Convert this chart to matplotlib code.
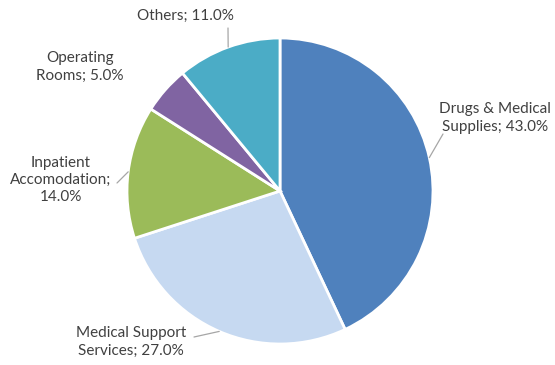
import matplotlib
matplotlib.use('Agg')
import matplotlib.pyplot as plt
import numpy as np

categories = ['Drugs & Medical\nSupplies', 'Medical Support\nServices', 'Inpatient\nAccomodation;\n14.0%',
              'Operating\nRooms', 'Others']
shares = [43.0, 27.0, 14.0, 5.0, 11.0]
colors = ['#4F81BD', '#C6D9F1', '#9BBB59', '#8064A2', '#4BACC6']

# label text centres and leader line ends (pixels from top-left)
label_pos = [(495, 118), (131, 342), (61, 180), (80, 67), (185, 16)]
leader_end = [(443, 134), (194, 337), (117, 183), None, (228, 28)]

W, H = 555, 365
fig = plt.figure(figsize=(W / 100, H / 100), dpi=100)
cx, cy, r = 280, 191, 153
ax = fig.add_axes([(cx - r) / W, (H - cy - r) / H, 2 * r / W, 2 * r / H])

wedges, _ = ax.pie(shares, colors=colors, startangle=90, counterclock=False,
                   wedgeprops=dict(edgecolor='white', linewidth=2))
ax.set_xlim(-1, 1)
ax.set_ylim(-1, 1)
ax.set_aspect('equal')

for w, cat, val, (lx, ly), le in zip(wedges, categories, shares, label_pos, leader_end):
    if cat.endswith('%'):
        txt = cat
    else:
        txt = cat + '; %.1f%%' % val
    fig.text(lx / W, 1 - ly / H, txt, ha='center', va='center', fontsize=11,
             family='Lato', color='#404040', linespacing=1.3)
    if le is not None:
        mid = np.deg2rad((w.theta1 + w.theta2) / 2)
        ax.annotate('', xy=(np.cos(mid), np.sin(mid)),
                    xytext=(le[0] / W, 1 - le[1] / H), textcoords='figure fraction',
                    arrowprops=dict(arrowstyle='-', color='#A6A6A6', lw=0.9,
                                    shrinkA=0, shrinkB=0))

fig.savefig('out.png', dpi=100)
